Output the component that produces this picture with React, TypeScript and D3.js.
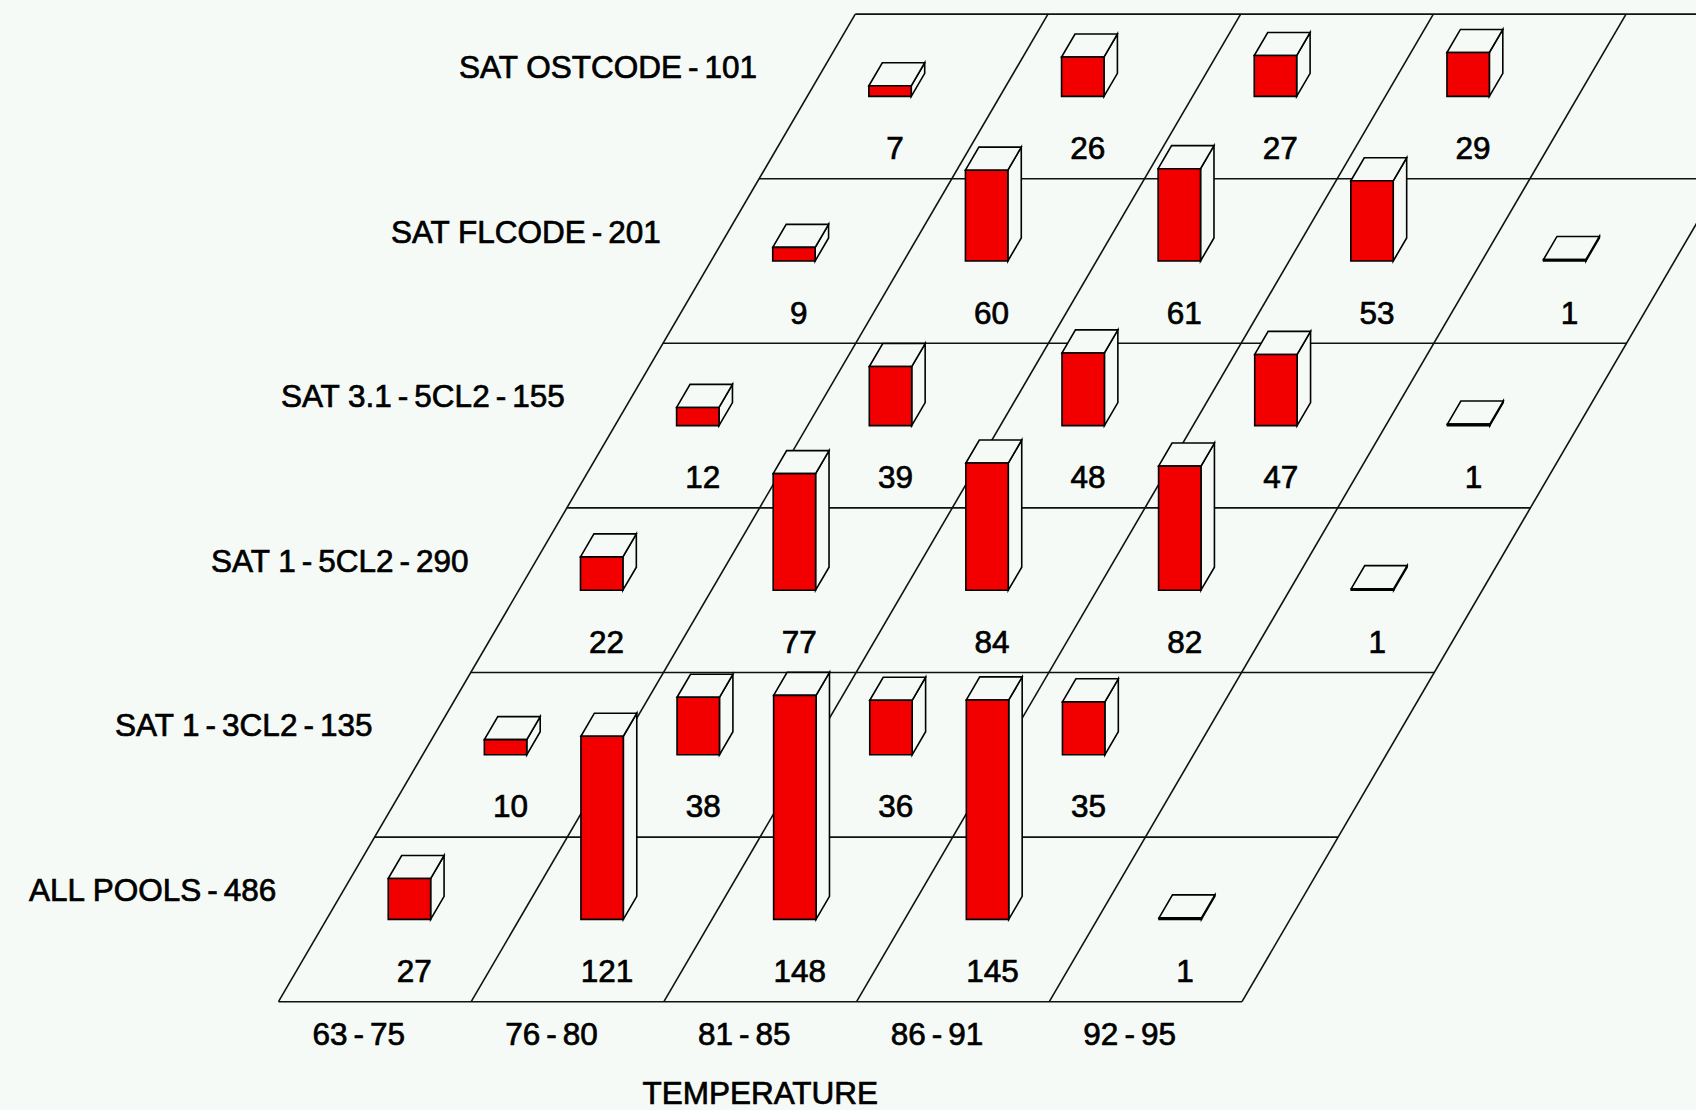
import React from "react";
import * as d3 from "d3";

// ---- Data ----
const rowLabels = [
  "ALL POOLS-486",
  "SAT 1-3CL2-135",
  "SAT 1-5CL2-290",
  "SAT 3.1-5CL2-155",
  "SAT FLCODE-201",
  "SAT OSTCODE-101",
];
const tempLabels = ["63-75", "76-80", "81-85", "86-91", "92-95"];
const allPools = [27, 121, 148, 145, 1];
const sat13CL2 = [10, 38, 36, 35, null];
const sat15CL2 = [22, 77, 84, 82, 1];
const sat315CL2 = [12, 39, 48, 47, 1];
const satFlcode = [9, 60, 61, 53, 1];
const satOstcode = [7, 26, 27, 29, null];
const rowValues: (number | null)[][] = [allPools, sat13CL2, sat15CL2, sat315CL2, satFlcode, satOstcode];
const axisTitle = "TEMPERATURE";

const W = 1696;
const H = 1110;
const BG = "#f5faf6";
const RED = "#f20000";
const FONT = "'Liberation Sans', Arial, sans-serif";
const FS = 31.5;

// render a label so that its hyphens get the wider spacing of the original font
function dashed(t: string, gap: number) {
  const parts = t.split("-");
  const out: React.ReactNode[] = [parts[0]];
  for (let i = 1; i < parts.length; i++) {
    out.push(
      <tspan key={"d" + i} dx={gap}>
        -
      </tspan>
    );
    out.push(
      <tspan key={"p" + i} dx={gap}>
        {parts[i]}
      </tspan>
    );
  }
  return out;
}

export default function App() {
  const nCols = tempLabels.length;
  const nRows = rowLabels.length;
  const x = d3.scaleLinear().domain([0, nCols]).range([278.5, 278.5 + nCols * 192.7]);
  const y = d3.scaleLinear().domain([0, nRows]).range([1001.7, 1001.7 - nRows * 164.6]);
  const hScale = d3.scaleLinear().domain([0, 148]).range([0, 224]);
  const slant = 0.584;
  const y0 = y(0);
  const P = (c: number, r: number): [number, number] => [x(c) + (y0 - y(r)) * slant, y(r)];
  const pts = (a: [number, number][]) => a.map((p) => p[0].toFixed(2) + "," + p[1].toFixed(2)).join(" ");

  // grid
  const gridLines: { x1: number; y1: number; x2: number; y2: number }[] = [];
  for (let r = 0; r <= nRows; r++) {
    const a = P(0, r), b = P(nCols, r);
    gridLines.push({ x1: a[0], y1: a[1], x2: b[0], y2: b[1] });
  }
  for (let c = 0; c <= nCols; c++) {
    const a = P(c, 0), b = P(c, nRows);
    gridLines.push({ x1: a[0], y1: a[1], x2: b[0], y2: b[1] });
  }

  const bars: React.ReactNode[] = [];
  const labels: React.ReactNode[] = [];
  for (let r = nRows - 1; r >= 0; r--) {
    rowValues[r].forEach((v, c) => {
      if (v == null) return;
      const c0 = c + 0.32, c1 = c + 0.54, r0 = r + 0.5, r1 = r + 0.64;
      const h = hScale(v);
      const fl = P(c0, r0), fr = P(c1, r0), bl = P(c0, r1), br = P(c1, r1);
      const up = (p: [number, number]): [number, number] => [p[0], p[1] - h];
      bars.push(
        <g key={`b${r}-${c}`} stroke="#000" strokeWidth={1.6} strokeLinejoin="miter">
          <polygon points={pts([fr, br, up(br), up(fr)])} fill={BG} />
          <polygon points={pts([up(fl), up(fr), up(br), up(bl)])} fill={BG} />
          <polygon points={pts([fl, fr, up(fr), up(fl)])} fill={RED} />
        </g>
      );
      const lp = P(c + 0.645, r + 0.12);
      labels.push(
        <text key={`l${r}-${c}`} x={lp[0]} y={lp[1]} textAnchor="middle">
          {v}
        </text>
      );
    });
  }

  return (
    <div style={{ position: "absolute", left: 0, top: 0, width: W, height: H, background: BG }}>
      <svg width={W} height={H} viewBox={`0 0 ${W} ${H}`} style={{ display: "block" }}>
        <rect x={0} y={0} width={W} height={H} fill={BG} />
        <g stroke="#111" strokeWidth={1.6}>
          {gridLines.map((l, i) => (
            <line key={i} {...l} />
          ))}
        </g>
        {bars}
        <g fontFamily={FONT} fontSize={FS} fill="#000" stroke="#000" strokeWidth={0.7}>
          {labels}
          {rowLabels.map((t, r) => {
            const p = P(0, r + 0.685);
            return (
              <text key={t} x={p[0] - 68} y={y(r + 0.612)} textAnchor="end">
                {dashed(t, 6)}
              </text>
            );
          })}
          {tempLabels.map((t, c) => (
            <text key={t} x={x(c + 0.417)} y={1045} textAnchor="middle">
              {dashed(t, 6)}
            </text>
          ))}
          <text x={(x(0) + x(nCols)) / 2} y={1104} textAnchor="middle">
            {axisTitle}
          </text>
        </g>
      </svg>
    </div>
  );
}
